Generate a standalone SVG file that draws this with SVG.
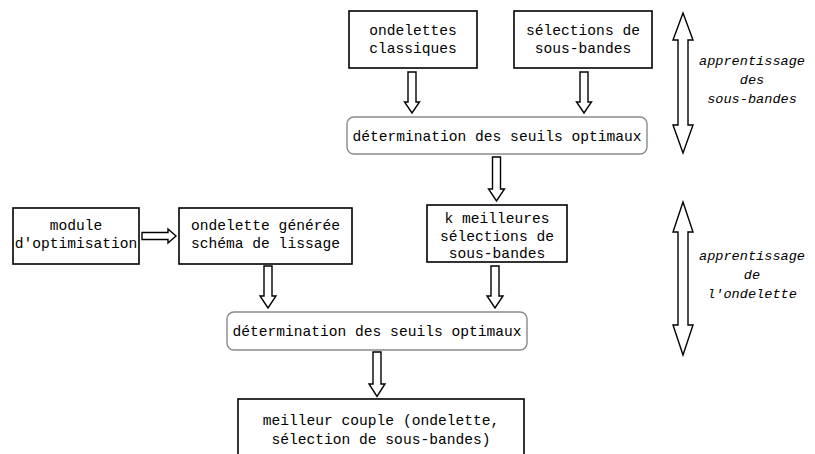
<svg xmlns="http://www.w3.org/2000/svg" width="815" height="454" viewBox="0 0 815 454">
<style>
.box{fill:#fff;stroke:#000;stroke-width:1.6}
.rbox{fill:#fff;stroke:#8a8a8a;stroke-width:1.4}
.t{font-family:"Liberation Mono","Cousine",monospace;font-size:14.6px;fill:#000;text-anchor:middle}
.it{font-family:"Liberation Mono","Cousine",monospace;font-size:13.6px;font-style:italic;fill:#000;text-anchor:middle}
.ba{fill:#fff;stroke:#000;stroke-width:1.4;stroke-linejoin:miter}
</style>
<rect width="815" height="454" fill="#fff"/>
<g id="connectors">
<polygon class="ba" points="408,72 416,72 416,102 419.5,102 412,113 404.5,102 408,102"/>
<polygon class="ba" points="580,72 588,72 588,102 591.5,102 584,113 576.5,102 580,102"/>
<polygon class="ba" points="492.5,157 500.5,157 500.5,189 504.5,189 496.5,201 488.5,189 492.5,189"/>
<polygon class="ba" points="264,266 272,266 272,296 276,296 268,308 260,296 264,296"/>
<polygon class="ba" points="491,266 499,266 499,296 503,296 495,308 487,296 491,296"/>
<polygon class="ba" points="373,352 381,352 381,384 385,384 377,396.5 369,384 373,384"/>
<polygon class="ba" points="142,232.5 168,232.5 168,229 176,236 168,243 168,239.5 142,239.5"/>
<polygon class="ba" points="683,13 693,40 688,40 688,125 693,125 683,153 673,125 678,125 678,40 673,40"/>
<polygon class="ba" points="683,202 693,232 688,232 688,325 693,325 683,355 673,325 678,325 678,232 673,232"/>
</g>
<g id="n-ondelettes">
<rect class="box" x="349" y="11" width="128" height="57"/>
<text class="t" x="413" y="35">ondelettes</text>
<text class="t" x="413" y="53">classiques</text>
</g>
<g id="n-selections">
<rect class="box" x="514" y="11" width="138" height="57"/>
<text class="t" x="583" y="35">sélections de</text>
<text class="t" x="583" y="53">sous-bandes</text>
</g>
<g id="n-det1">
<rect class="rbox" x="347" y="117" width="300" height="37" rx="7"/>
<text class="t" x="497" y="140.5">détermination des seuils optimaux</text>
</g>
<g id="n-module">
<rect class="box" x="13" y="208" width="126" height="56"/>
<text class="t" x="76" y="230">module</text>
<text class="t" x="76" y="248">d'optimisation</text>
</g>
<g id="n-ondelette-generee">
<rect class="box" x="179" y="208" width="173" height="56"/>
<text class="t" x="265.5" y="230">ondelette générée</text>
<text class="t" x="265.5" y="248">schéma de lissage</text>
</g>
<g id="n-kmeilleures">
<rect class="box" x="427" y="205" width="140" height="57"/>
<text class="t" x="497" y="223">k meilleures</text>
<text class="t" x="497" y="240.5">sélections de</text>
<text class="t" x="497" y="258">sous-bandes</text>
</g>
<g id="n-det2">
<rect class="rbox" x="227" y="312" width="300" height="38" rx="7"/>
<text class="t" x="377" y="335.5">détermination des seuils optimaux</text>
</g>
<g id="n-meilleur">
<rect class="box" x="238" y="399" width="286" height="70"/>
<text class="t" x="381" y="425">meilleur couple (ondelette,</text>
<text class="t" x="381" y="444">sélection de sous-bandes)</text>
</g>
<g id="l-sousbandes">
<text class="it" x="752" y="65">apprentissage</text>
<text class="it" x="752" y="84">des</text>
<text class="it" x="752" y="102.5">sous-bandes</text>
</g>
<g id="l-ondelette">
<text class="it" x="752" y="260">apprentissage</text>
<text class="it" x="752" y="279">de</text>
<text class="it" x="752" y="297.5">l'ondelette</text>
</g>
</svg>
